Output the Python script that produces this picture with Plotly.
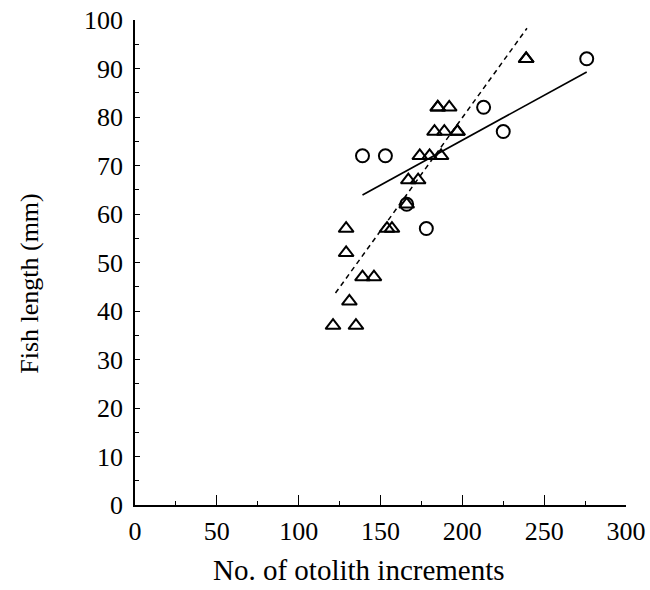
import plotly.graph_objects as go

# Triangles (group 1)
tri_x = [121, 135, 131, 139, 146, 129, 129, 154, 157, 166, 167, 173,
         174, 180, 187, 183, 189, 197, 197, 185, 185, 192, 239, 239]
tri_y = [37, 37, 42, 47, 47, 52, 57, 57, 57, 62, 67, 67,
         72, 72, 72, 77, 77, 77, 77, 82, 82, 82, 92, 92]

# Circles (group 2)
cir_x = [139, 153, 166, 178, 213, 225, 276]
cir_y = [72, 72, 62, 57, 82, 77, 92]

# Regression lines (endpoints)
solid_x = [139, 276]
solid_y = [63.9, 89.3]
dash_x = [122.5, 239.5]
dash_y = [43.7, 98.3]

x_ticks = [0, 50, 100, 150, 200, 250, 300]
y_ticks = [0, 10, 20, 30, 40, 50, 60, 70, 80, 90, 100]

x_title = "No. of otolith increments"
y_title = "Fish length (mm)"

FONT = "Liberation Serif"

fig = go.Figure()
fig.add_trace(go.Scatter(x=dash_x, y=dash_y, mode="lines",
                         line=dict(color="black", width=1.5, dash="5px,4px"),
                         showlegend=False, hoverinfo="skip"))
fig.add_trace(go.Scatter(x=solid_x, y=solid_y, mode="lines",
                         line=dict(color="black", width=1.7),
                         showlegend=False, hoverinfo="skip"))
fig.add_trace(go.Scatter(x=cir_x, y=cir_y, mode="markers",
                         marker=dict(symbol="circle-open", size=13, color="black",
                                     line=dict(width=2, color="black")),
                         showlegend=False))
fig.add_trace(go.Scatter(x=tri_x, y=tri_y, mode="markers",
                         marker=dict(symbol="triangle-up-open", size=13, color="black",
                                     line=dict(width=2, color="black")),
                         showlegend=False))

fig.update_layout(
    width=650, height=590,
    margin=dict(l=135, r=24, t=20, b=85),
    paper_bgcolor="white", plot_bgcolor="white",
    font=dict(family=FONT, color="black"),
    annotations=[
        dict(text=x_title, xref="paper", yref="paper", x=0.456, y=-0.134,
             xanchor="center", yanchor="middle", showarrow=False,
             font=dict(family=FONT, size=29, color="black")),
        dict(text=y_title, xref="paper", yref="paper", x=-0.214, y=0.458,
             xanchor="center", yanchor="middle", showarrow=False, textangle=-90,
             font=dict(family=FONT, size=26, color="black")),
    ],
)
fig.update_xaxes(
    range=[0, 300], tickvals=x_ticks, ticktext=[str(v) for v in x_ticks],
    automargin=False,
    showgrid=False, zeroline=False, showline=True, linecolor="black", linewidth=1.5,
    ticks="inside", ticklen=10, tickwidth=1.3, tickcolor="black",
    minor=dict(dtick=25, ticks="inside", ticklen=4, tickwidth=1.2, tickcolor="black"),
    tickfont=dict(family=FONT, size=26, color="black"),
    ticklabelstandoff=2,
)
fig.update_yaxes(
    range=[0, 100], tickvals=y_ticks, ticktext=[str(v) for v in y_ticks],
    automargin=False,
    showgrid=False, zeroline=False, showline=True, linecolor="black", linewidth=1.5,
    ticks="inside", ticklen=5, tickwidth=1.3, tickcolor="black",
    minor=dict(dtick=5, ticks="inside", ticklen=4, tickwidth=1.2, tickcolor="black"),
    tickfont=dict(family=FONT, size=26, color="black"),
    ticklabelstandoff=5,
)

fig.write_html("out.html")
